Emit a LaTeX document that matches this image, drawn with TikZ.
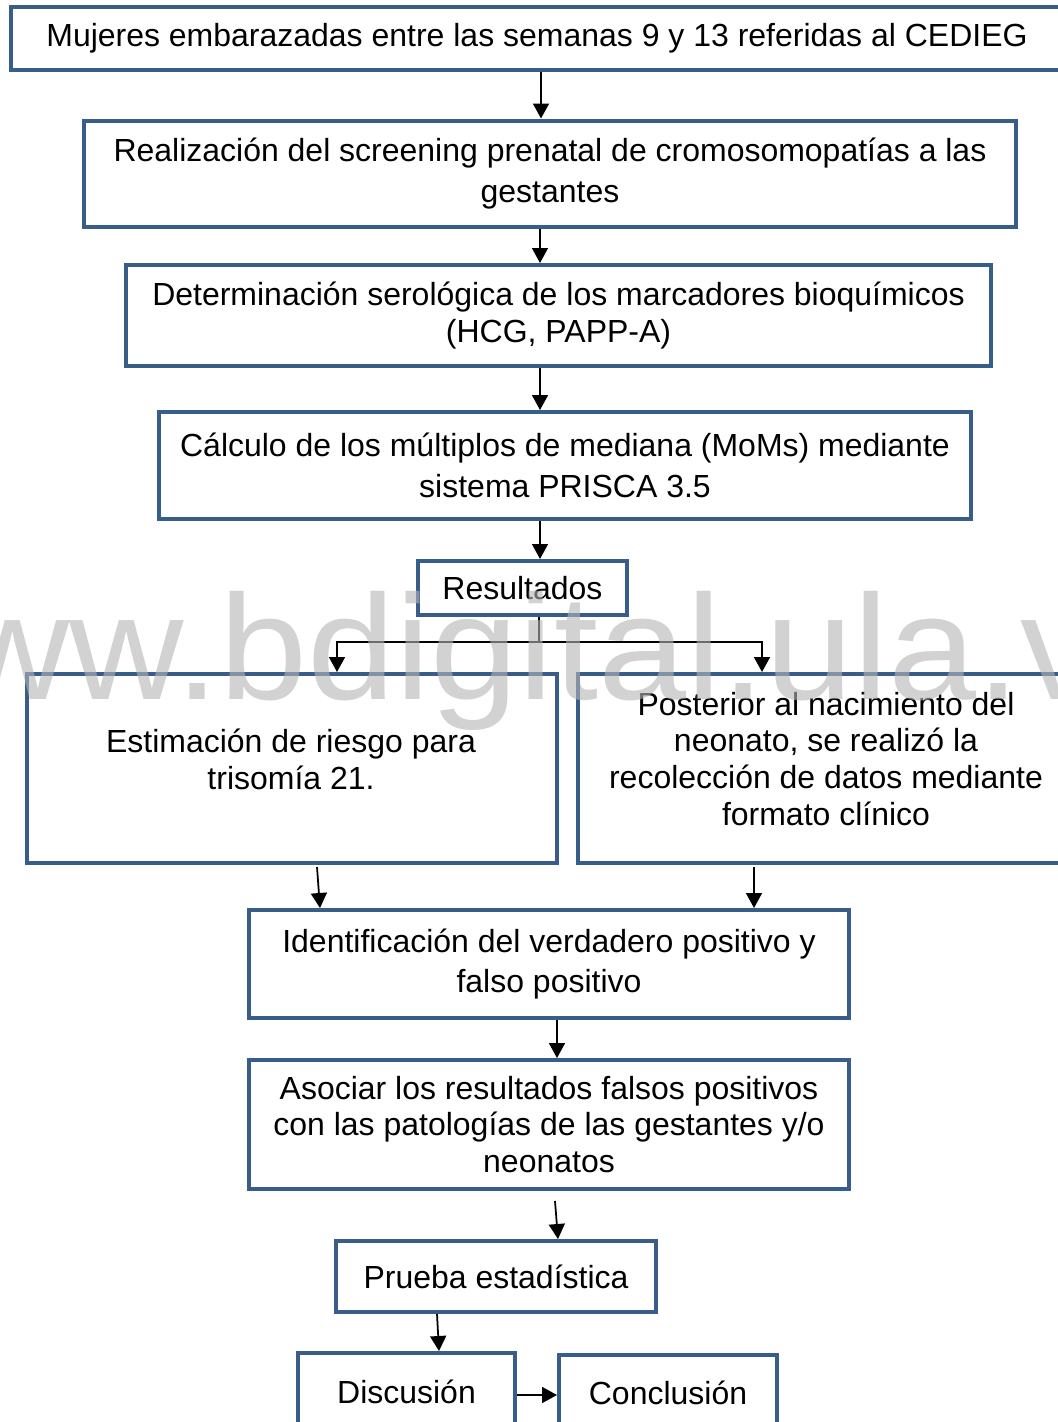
\documentclass[tikz,border=0pt]{standalone}
\usepackage{fontspec}
\setmainfont{Liberation Sans}
\newfontfamily\marcafont[FakeStretch=1.06]{Liberation Sans}
\usetikzlibrary{arrows.meta,calc,positioning}
\definecolor{bordeazul}{RGB}{56,93,138}
\definecolor{marcagris}{RGB}{180,180,180}

\begin{document}
\begin{tikzpicture}[x=0.2mm, y=-0.2mm,
  caja/.style={draw=bordeazul, line width=0.8mm, fill=white, inner sep=0pt, align=center,
    font=\fontsize{18.2pt}{21pt}\selectfont},
  ancha/.style={font=\fontsize{18.2pt}{23.5pt}\selectfont},
  texto/.style={inner sep=0pt, align=center, font=\fontsize{18.2pt}{21pt}\selectfont},
  tam/.style 2 args={minimum width=#1*0.2mm, minimum height=#2*0.2mm},
  flecha/.style={-{Triangle[length=3mm, width=3.2mm]}, line width=0.35mm, black},
  rama/.style={line width=0.3mm, black},
  marca/.style={text=marcagris, text opacity=0.6, inner sep=0pt,
    font=\marcafont\fontsize{85pt}{85pt}\selectfont}]
  % Page size of the flow chart
  \useasboundingbox (0,0) rectangle (1058,1422);

  % Boxes, top to bottom
  \node[caja, tam={1052}{63}] (inicio) at (537,38)
    {Mujeres embarazadas entre las semanas 9 y 13 referidas al CEDIEG};
  \node[caja, ancha, tam={932}{106}] (cribado) at (550,173.5)
    {Realización del screening prenatal de cromosomopatías a las\\ gestantes};
  \node[caja, tam={865}{101}] (marcadores) at (558.5,315.5)
    {Determinación serológica de los marcadores bioquímicos\\ (HCG, PAPP-A)};
  \node[caja, ancha, tam={812}{107}] (moms) at (565,465.5)
    {Cálculo de los múltiplos de mediana (MoMs) mediante\\ sistema PRISCA 3.5};
  \node[caja, tam={209}{54}] (resultados) at (522.5,588) {Resultados};

  % Two branches (text sits a bit above the middle)
  \node[caja, tam={530}{189}] (riesgo) at (292,768.5) {};
  \node[texto] (riesgotxt) at (291,759)
    {Estimación de riesgo para\\ trisomía 21.};
  \node[caja, tam={496}{189}] (posterior) at (826,768.5) {};
  \node[texto] (posteriortxt) at (826,759)
    {Posterior al nacimiento del\\ neonato, se realizó la\\ recolección de datos mediante\\ formato clínico};

  \node[caja, tam={600}{108}, font=\fontsize{18.2pt}{22.5pt}\selectfont] (identif) at (549,964)
    {Identificación del verdadero positivo y\\ falso positivo};
  \node[caja, tam={600}{129}] (asociar) at (549,1124.5)
    {Asociar los resultados falsos positivos\\ con las patologías de las gestantes y/o\\ neonatos};
  \node[caja, tam={320}{71}] (prueba) at (496,1276.5) {Prueba estadística};
  \node[caja, tam={217}{77}] (discusion) at (406.5,1391.5) {Discusión};
  \node[caja, tam={218}{75}] (conclusion) at (668,1392.5) {Conclusión};

  % Arrows
  \draw[flecha] (inicio.south -| 541,0) -- (cribado.north -| 541,0);
  \draw[flecha] (cribado.south -| 540,0) -- (marcadores.north -| 540,0);
  \draw[flecha] (marcadores.south -| 540,0) -- (moms.north -| 540,0);
  \draw[flecha] (moms.south -| 540,0) -- (resultados.north -| 540,0);

  % Split after Resultados
  \coordinate (division) at (539,642);
  \draw[rama] (resultados.south -| division) -- (division);
  \draw[rama, flecha] (division) -| (riesgo.north -| 337,0);
  \draw[rama, flecha] (division) -| (posterior.north -| 762,0);

  \draw[flecha] ([yshift=-0.4mm]riesgo.south -| 317,0) -- (identif.north -| 320,0);
  \draw[flecha] ([yshift=-0.4mm]posterior.south -| 754,0) -- (identif.north -| 754,0);
  \draw[flecha] (identif.south -| 557,0) -- (asociar.north -| 557,0);
  \draw[flecha] ([yshift=-2mm]asociar.south -| 555,0) -- (prueba.north -| 558,0);
  \draw[flecha] (prueba.south -| 437,0) -- (discusion.north -| 439,0);
  \draw[flecha] (discusion.east |- 0,1395) -- (conclusion.west |- 0,1395);

  % Watermark over everything
  \node[marca, anchor=base west] (marcaagua) at (-159,699) {www.bdigital.ula.ve};
\end{tikzpicture}
\end{document}
